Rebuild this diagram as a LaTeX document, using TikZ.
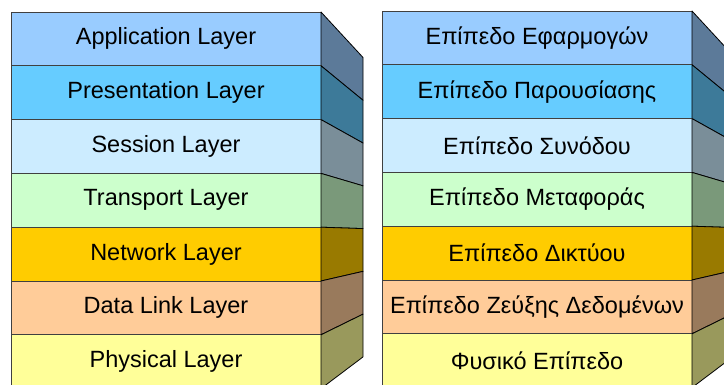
\documentclass[tikz,border=0pt]{standalone}
\usepackage{fontspec}
\setmainfont{Liberation Sans}
\usetikzlibrary{calc}

% front colours of the seven layers
\definecolor{appc}{HTML}{99CCFF}
\definecolor{presc}{HTML}{66CCFF}
\definecolor{sessc}{HTML}{CCECFF}
\definecolor{transc}{HTML}{CCFFCC}
\definecolor{netc}{HTML}{FFCC00}
\definecolor{datac}{HTML}{FFCC99}
\definecolor{physc}{HTML}{FFFF99}

\tikzset{
  layer/.style={draw=black!75, line width=0.8pt, minimum width=310pt,
    minimum height=53.8pt, inner sep=0pt, outer sep=0pt,
    font=\fontsize{23.5}{28}\selectfont, text=black},
  sideface/.style={draw=black, line width=0.8pt, line join=round}
}

\begin{document}
\begin{tikzpicture}[x=1pt,y=-1pt]
  \useasboundingbox (0,0) rectangle (724,385);
  \clip (0,0) rectangle (724,385);
  \fill[white] (0,0) rectangle (724,385);

  % vanishing points of the two stacks' side faces
  \coordinate (VE) at (526,234);
  \coordinate (VG) at (897,233);

  \foreach \c/\en/\gr [count=\i] in {
      appc/Application Layer/Επίπεδο Εφαρμογών,
      presc/Presentation Layer/Επίπεδο Παρουσίασης,
      sessc/Session Layer/Επίπεδο Συνόδου,
      transc/Transport Layer/Επίπεδο Μεταφοράς,
      netc/Network Layer/Επίπεδο Δικτύου,
      datac/Data Link Layer/Επίπεδο Ζεύξης Δεδομένων,
      physc/Physical Layer/Φυσικό Επίπεδο} {
    \pgfmathsetmacro\yl{12+53.8*(\i-0.5)}
    % English stack
    \node[layer, fill=\c] (E\i) at (166,\yl) {\en};
    \draw[sideface, fill=\c!60!black]
      (E\i.north east) -- ($(E\i.north east)!0.205!(VE)$)
      -- ($(E\i.south east)!0.205!(VE)$) -- (E\i.south east) -- cycle;
    % Greek stack
    \node[layer, fill=\c] (G\i) at (537,\yl-1) {\gr};
    \draw[sideface, fill=\c!60!black]
      (G\i.north east) -- ($(G\i.north east)!0.205!(VG)$)
      -- ($(G\i.south east)!0.205!(VG)$) -- (G\i.south east) -- cycle;
  }
\end{tikzpicture}
\end{document}
